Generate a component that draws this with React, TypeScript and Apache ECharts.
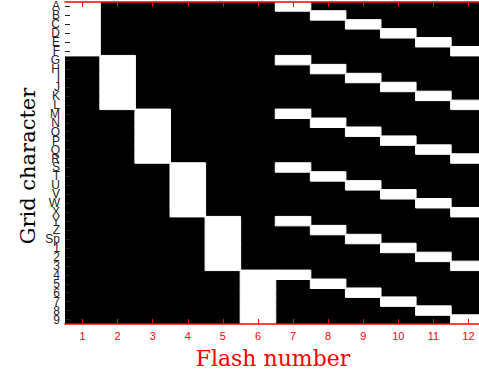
import React, { useEffect, useRef } from "react";
import * as echarts from "echarts";

const rowLabels = [
  "A", "B", "C", "D", "E", "F", "G", "H", "I", "J", "K", "L",
  "M", "N", "O", "P", "Q", "R", "S", "T", "U", "V", "W", "X",
  "Y", "Z", "Sp", "1", "2", "3", "4", "5", "6", "7", "8", "9",
];
const flashNumbers = ["1", "2", "3", "4", "5", "6", "7", "8", "9", "10", "11", "12"];
const flashedChars: string[][] = [
  ["A", "B", "C", "D", "E", "F"],
  ["G", "H", "I", "J", "K", "L"],
  ["M", "N", "O", "P", "Q", "R"],
  ["S", "T", "U", "V", "W", "X"],
  ["Y", "Z", "Sp", "1", "2", "3"],
  ["4", "5", "6", "7", "8", "9"],
  ["A", "G", "M", "S", "Y", "4"],
  ["B", "H", "N", "T", "Z", "5"],
  ["C", "I", "O", "U", "Sp", "6"],
  ["D", "J", "P", "V", "1", "7"],
  ["E", "K", "Q", "W", "2", "8"],
  ["F", "L", "R", "X", "3", "9"],
];

export default function App() {
  const ref = useRef<HTMLDivElement>(null);
  useEffect(() => {
    document.body.style.margin = "0";
    document.body.style.overflow = "hidden";
    const chart = echarts.init(ref.current!, null, { renderer: "svg" });
    const data: any[] = [];
    flashNumbers.forEach((_, xi) => {
      rowLabels.forEach((r, yi) => {
        if (flashedChars[xi].includes(r)) {
          data.push({
            value: [xi, yi, 1],
            itemStyle: { borderColor: "#ffffff", borderWidth: 1 },
          });
        }
      });
    });
    const red = "#ff0000";
    chart.setOption({
      animation: false,
      backgroundColor: "#ffffff",
      grid: {
        left: 65,
        top: 2,
        bottom: 50,
        right: 0,
        show: true,
        backgroundColor: "#000000",
        borderWidth: 0,
      },
      visualMap: {
        show: false,
        type: "continuous",
        min: 0,
        max: 1,
        dimension: 2,
        inRange: { color: ["#000000", "#ffffff"] },
      },
      xAxis: [
        {
          type: "category",
          data: flashNumbers,
          position: "bottom",
          z: 10,
          axisLine: { show: true, lineStyle: { color: red, width: 1.5 } },
          axisTick: { show: true, inside: true, alignWithLabel: true, length: 5, lineStyle: { color: red } },
          axisLabel: { color: red, fontSize: 11, margin: 6, fontFamily: "Liberation Sans" },
          splitLine: { show: false },
        },
        {
          type: "category",
          data: flashNumbers,
          position: "top",
          z: 10,
          axisLine: { show: true, lineStyle: { color: red, width: 1.5 } },
          axisTick: { show: true, inside: true, alignWithLabel: true, length: 5, lineStyle: { color: red } },
          axisLabel: { show: false },
          splitLine: { show: false },
        },
      ],
      yAxis: {
        type: "category",
        data: rowLabels,
        inverse: true,
        z: 10,
        axisLine: { show: false },
        axisTick: { show: true, inside: true, alignWithLabel: true, length: 5, lineStyle: { color: "#222" } },
        axisLabel: { interval: 0, color: "#222", fontSize: 12, margin: 5, fontFamily: "Liberation Sans" },
        splitLine: { show: false },
      },
      graphic: [
        {
          type: "text",
          x: 273,
          y: 358,
          style: {
            text: "Flash number",
            fill: red,
            font: "22px 'DejaVu Serif'",
            align: "center",
            verticalAlign: "middle",
          },
        },
        {
          type: "text",
          x: 28,
          y: 166,
          rotation: Math.PI / 2,
          style: {
            text: "Grid character",
            fill: "#000",
            font: "21px 'DejaVu Serif'",
            align: "center",
            verticalAlign: "middle",
          },
        },
      ],
      series: [
        {
          type: "heatmap",
          xAxisIndex: 0,
          yAxisIndex: 0,
          data,
        },
      ],
    });
    return () => chart.dispose();
  }, []);
  return (
    <div
      ref={ref}
      style={{ width: 486, height: 374, position: "fixed", left: 0, top: 0 }}
    />
  );
}
